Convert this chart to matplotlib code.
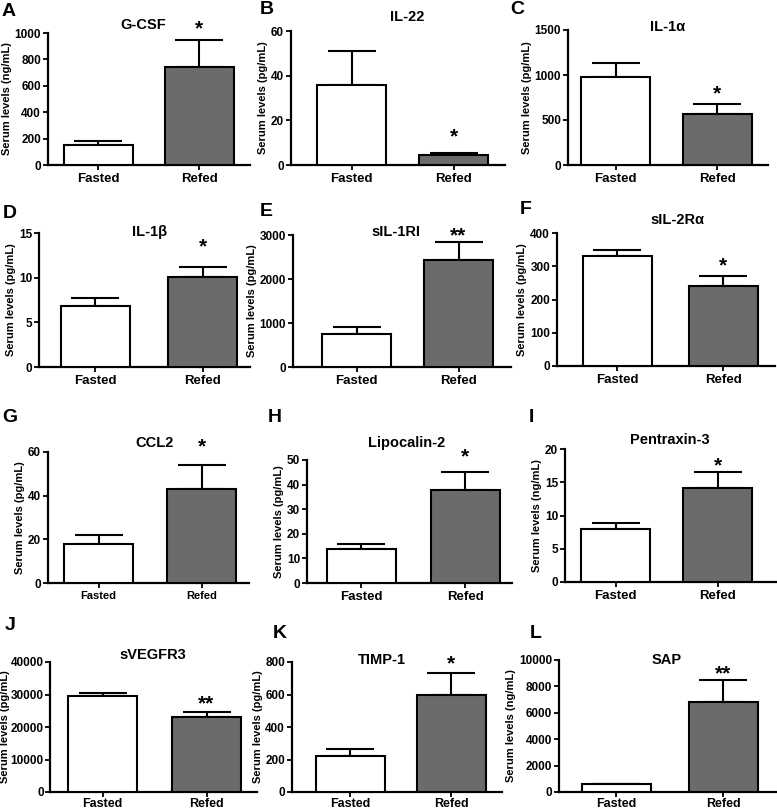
import matplotlib
matplotlib.use('Agg')
import matplotlib.pyplot as plt
import numpy as np

plt.rcParams['font.family'] = ['Liberation Sans', 'DejaVu Sans']
plt.rcParams['font.weight'] = 'bold'
plt.rcParams['axes.labelweight'] = 'bold'

# ---- data ----
groups = ['Fasted', 'Refed']
letters = ['A', 'B', 'C', 'D', 'E', 'F', 'G', 'H', 'I', 'J', 'K', 'L']
analytes = ['G-CSF', 'IL-22', 'IL-1α', 'IL-1β', 'sIL-1RI', 'sIL-2Rα',
            'CCL2', 'Lipocalin-2', 'Pentraxin-3', 'sVEGFR3', 'TIMP-1', 'SAP']
units = ['ng/mL', 'pg/mL', 'pg/mL', 'pg/mL', 'pg/mL', 'pg/mL',
         'pg/mL', 'pg/mL', 'ng/mL', 'pg/mL', 'pg/mL', 'ng/mL']
fasted_mean = [150, 36, 980, 6.8, 750, 330, 18, 14, 8.0, 29500, 220, 580]
fasted_err = [30, 15, 150, 0.9, 150, 18, 4, 2, 0.8, 900, 42, 60]
refed_mean = [740, 4.5, 570, 10.1, 2440, 240, 43, 38, 14.1, 23000, 600, 6800]
refed_err = [210, 0.8, 110, 1.1, 410, 30, 11, 7, 2.4, 1500, 130, 1650]
signif = ['*', '*', '*', '*', '**', '*', '*', '*', '*', '**', '*', '**']
y_max = [1000, 60, 1500, 15, 3000, 400, 60, 50, 20, 40000, 800, 10000]
y_step = [200, 20, 500, 5, 1000, 100, 20, 10, 5, 10000, 200, 2000]

# ---- layout (pixels in a 777x810 image) ----
W, H = 777, 810
# axes box: left, right, top, bottom ; bar centres
boxes = [(48, 250, 33, 165), (291, 505, 31, 165), (568, 768, 30, 165),
         (39, 250, 233, 367), (293, 511, 235, 367), (557, 775, 233, 366),
         (48, 249, 452, 583), (307, 512, 460, 583), (565, 777, 449, 582),
         (50, 257, 662, 792), (292, 502, 662, 792), (559, 777, 660, 792)]
centres = [(98, 199), (351.5, 453.5), (615.5, 717),
           (95, 202.5), (356.5, 458.5), (617, 723),
           (98.5, 201.5), (361, 465), (615.5, 717.5),
           (102.5, 206.5), (350, 451), (616, 723)]
title_pos = [(143, 25), (407, 17), (668, 27), (150, 232), (396, 232), (677, 220),
             (155, 443), (407, 443), (670, 440), (153, 655), (382, 660), (667, 660)]
letter_pos = [(2, 11), (260, 10), (510, 9), (3, 213), (260, 212), (520, 210),
              (2, 417), (268, 417), (529, 417), (5, 625), (273, 633), (530, 633)]
star_y = [25, 133, 90, 243, 232, 262, 443, 453, 462, 700, 660, 670]

refed_color = '#6b6b6b'
bar_px = 69

fig = plt.figure(figsize=(W / 100, H / 100), dpi=100)

for i in range(12):
    L, R, T, B = boxes[i]
    c0, c1 = centres[i]
    ax = fig.add_axes([L / W, 1 - B / H, (R - L) / W, (B - T) / H])
    step = c1 - c0
    ax.set_xlim((L - c0) / step, (R - c0) / step)
    ax.set_ylim(0, y_max[i])
    wid = bar_px / step

    ax.bar([0, 1], [fasted_mean[i], refed_mean[i]], width=wid,
           color=['white', refed_color], edgecolor='black', linewidth=1.5, zorder=3)
    ax.errorbar([0, 1], [fasted_mean[i], refed_mean[i]],
                yerr=[[0, 0], [fasted_err[i], refed_err[i]]],
                fmt='none', ecolor='black', elinewidth=1.5, capsize=17,
                capthick=1.5, zorder=2)

    ax.set_yticks(np.arange(0, y_max[i] + y_step[i] / 2, y_step[i]))
    ax.set_xticks([0, 1])
    xl_size = 8 if i == 6 else (9 if i >= 9 else 9.5)
    ax.set_xticklabels(groups, fontsize=xl_size, fontweight='bold')
    ax.tick_params(axis='y', labelsize=8.5, width=1.3, length=3.5,
                   pad=1 if i == 9 else 1.5)
    ax.tick_params(axis='x', width=1.3, length=3.5, pad=0.5 if i >= 9 else 2)
    for lab in ax.get_yticklabels():
        lab.set_fontweight('bold')
    ax.set_ylabel('Serum levels (%s)' % units[i], fontsize=8,
                  labelpad=0.5 if i == 9 else 2)
    for s in ['top', 'right']:
        ax.spines[s].set_visible(False)
    for s in ['left', 'bottom']:
        ax.spines[s].set_linewidth(1.6)
    ax.patch.set_alpha(0)

    tx, ty = title_pos[i]
    fig.text(tx / W, 1 - ty / H, analytes[i], ha='center', va='center',
             fontsize=10.5, fontweight='bold')
    lx, ly = letter_pos[i]
    fig.text(lx / W, 1 - ly / H, letters[i], ha='left', va='center',
             fontsize=14, fontweight='bold')
    fig.text(c1 / W, 1 - (star_y[i] + 9) / H, signif[i], ha='center',
             va='baseline', fontsize=15, fontweight='bold')

fig.savefig('out.png', dpi=100)
